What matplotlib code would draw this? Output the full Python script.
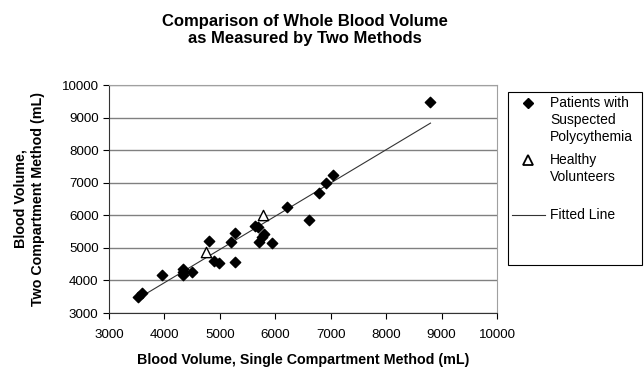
import matplotlib.pyplot as plt
from matplotlib.lines import Line2D
from matplotlib.patches import Rectangle

plt.rcParams['font.family'] = ['Liberation Sans', 'DejaVu Sans']

# patients with suspected polycythemia (single, two compartment)
patients_x = [3520, 3600, 3960, 4330, 4335, 4340, 4490, 4810, 4900, 4990,
              5210, 5280, 5280, 5640, 5680, 5710, 5760, 5800, 5940, 6210,
              6600, 6780, 6920, 7040, 8800]
patients_y = [3480, 3600, 4160, 4340, 4260, 4170, 4270, 5200, 4590, 4520,
              5180, 5460, 4580, 5670, 5650, 5180, 5340, 5420, 5150, 6260,
              5870, 6690, 6980, 7240, 9490]

# healthy volunteers
healthy_x = [4750, 5780]
healthy_y = [4880, 6000]

# fitted line endpoints
fit_x = [3500, 8800]
fit_y = [3420, 8830]

W, H = 644, 367
fig = plt.figure(figsize=(W / 100, H / 100), dpi=100)
ax = fig.add_axes([109/W, 1 - 313/H, (497 - 109)/W, (313 - 85)/H])

ax.plot(fit_x, fit_y, color='#333333', lw=0.8, zorder=2)
ax.scatter(patients_x, patients_y, marker='D', s=28, color='black', zorder=3)
ax.scatter(healthy_x, healthy_y, marker='^', s=55, facecolor='white',
           edgecolor='black', linewidths=1.0, zorder=3)

ax.set_xlim(3000, 10000)
ax.set_ylim(3000, 10000)
ax.set_xticks(range(3000, 10001, 1000))
ax.set_yticks(range(3000, 10001, 1000))
ax.yaxis.grid(True, color='#808080', lw=1.0)
ax.set_axisbelow(True)
ax.tick_params(direction='out', length=4, labelsize=9.6, width=0.8)
ax.tick_params(axis='x', pad=7.5)
for s in ['top', 'right']:
    ax.spines[s].set_color('#a0a0a0')
for s in ['left', 'bottom']:
    ax.spines[s].set_color('#333333')

ax.set_xlabel('Blood Volume, Single Compartment Method (mL)',
              fontsize=10.3, fontweight='bold', labelpad=8.5)
ax.set_ylabel('Blood Volume,\nTwo Compartment Method (mL)',
              fontsize=10.3, fontweight='bold', labelpad=12, linespacing=1.35)

fig.text(305/W, 1 - 30/H, 'Comparison of Whole Blood Volume\nas Measured by Two Methods',
         ha='center', va='center', fontsize=12, fontweight='bold', linespacing=1.2)

# legend drawn by hand, Excel style (marker beside first line of label)
fig.add_artist(Rectangle((508/W, 1 - 265/H), (642 - 508)/W, (265 - 92)/H,
                         transform=fig.transFigure, fill=False,
                         edgecolor='black', lw=0.8))
fig.add_artist(Line2D([528/W], [1 - 103/H], marker='D', color='black',
                      markersize=5, transform=fig.transFigure))
fig.add_artist(Line2D([528/W], [1 - 160/H], marker='^', markerfacecolor='white',
                      markeredgecolor='black', markersize=7, markeredgewidth=1.3,
                      transform=fig.transFigure))
fig.add_artist(Line2D([512/W, 545/W], [1 - 215/H, 1 - 215/H], color='#333333',
                      lw=0.8, transform=fig.transFigure))
legend_rows = [(103, ['Patients with', 'Suspected', 'Polycythemia']),
               (160, ['Healthy', 'Volunteers']),
               (215, ['Fitted Line'])]
for y0, lines in legend_rows:
    for i, txt in enumerate(lines):
        fig.text(550/W, 1 - (y0 + 17 * i)/H, txt, ha='left', va='center',
                 fontsize=10)

fig.savefig('out.png', dpi=100)
